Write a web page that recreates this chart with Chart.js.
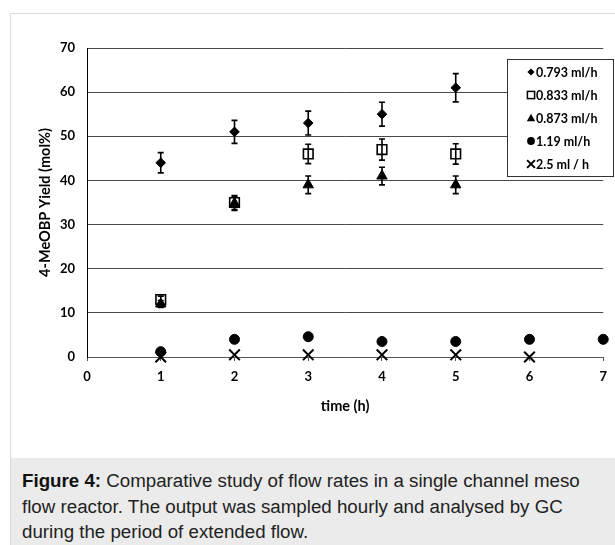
<!DOCTYPE html>
<html>
<head>
<meta charset="utf-8">
<script src="https://cdn.jsdelivr.net/npm/chart.js@4/dist/chart.umd.min.js"></script>
<style>
    html, body { margin: 0; padding: 0; background: #fff; }
    body { width: 615px; height: 545px; position: relative; overflow: hidden; }
    #panel {
        position: absolute; left: 10px; top: 13px; width: 605px; height: 532px;
        border-left: 1px solid #dcdcdc; border-top: 1px solid #dcdcdc; background: #fff;
    }
    #chart { position: absolute; left: 0; top: 0; }
    #caption {
        position: absolute; left: 11px; top: 458px; width: 604px; height: 87px;
        background: #ebebeb; overflow: hidden;
    }
    #caption div {
        position: absolute; left: 11px; top: 11px;
        font-family: "Liberation Sans", Arial, sans-serif; font-size: 18px;
        line-height: 25.5px; color: #222; white-space: nowrap;
        transform: scaleX(1.04); transform-origin: left top;
    }
    #caption b { color: #111; }
</style>
</head>
<body>
<div id="panel"></div>
<canvas id="chart" width="615" height="458"></canvas>
<div id="caption"><div><b>Figure 4:</b> Comparative study of flow rates in a single channel meso<br>flow reactor. The output was sampled hourly and analysed by GC<br>during the period of extended flow.</div></div>
<script>
// Sampling times (h)
const times = [1, 2, 3, 4, 5, 6, 7];

// Yield (mol%) per flow rate, with error bar half-widths
const yield0793 = [44, 51, 53, 55, 61];
const err0793 = [2.3, 2.6, 2.7, 2.7, 3.2];
const yield0833 = [13, 35, 46, 47, 46];
const err0833 = [0.8, 1.6, 2.2, 2.4, 2.3];
const yield0873 = [12, 34.8, 39, 41, 39];
const err0873 = [0.8, 1.6, 2, 2, 2];
const yield119 = [1.2, 4, 4.6, 3.5, 3.5, 4, 4];
const yield25 = [0, 0.5, 0.5, 0.5, 0.5, 0];

const seriesLabels = ['0.793 ml/h', '0.833 ml/h', '0.873 ml/h', '1.19 ml/h', '2.5 ml / h'];
const yTicks = [0, 10, 20, 30, 40, 50, 60, 70];

const FONT = 'Lato, "Open Sans", sans-serif';

function toPoints(values) {
    return values.map((v, i) => ({ x: times[i], y: v }));
}

// draws small marker shapes for the boxed legend
function drawMarker(ctx, style, x, y, r) {
    ctx.beginPath();
    if (style === 'rectRot') {
        ctx.moveTo(x, y - r); ctx.lineTo(x + r, y); ctx.lineTo(x, y + r); ctx.lineTo(x - r, y);
        ctx.closePath(); ctx.fill();
    } else if (style === 'rect') {
        ctx.lineWidth = 1.5;
        ctx.strokeRect(x - r, y - r, 2 * r, 2 * r);
    } else if (style === 'triangle') {
        ctx.moveTo(x, y - r); ctx.lineTo(x + r, y + r * 0.8); ctx.lineTo(x - r, y + r * 0.8);
        ctx.closePath(); ctx.fill();
    } else if (style === 'circle') {
        ctx.arc(x, y, r, 0, Math.PI * 2); ctx.fill();
    } else if (style === 'crossRot') {
        ctx.lineWidth = 2;
        ctx.moveTo(x - r, y - r); ctx.lineTo(x + r, y + r);
        ctx.moveTo(x + r, y - r); ctx.lineTo(x - r, y + r);
        ctx.stroke();
    }
}

const errorBars = {
    id: 'errorBars',
    afterDatasetsDraw(chart) {
        const ctx = chart.ctx;
        const y = chart.scales.y;
        ctx.save();
        ctx.strokeStyle = '#000';
        ctx.lineWidth = 1.6;
        chart.data.datasets.forEach((ds, i) => {
            if (!ds.errors) return;
            chart.getDatasetMeta(i).data.forEach((pt, j) => {
                const v = ds.data[j].y;
                const e = ds.errors[j];
                const top = y.getPixelForValue(v + e);
                const bot = y.getPixelForValue(v - e);
                ctx.beginPath();
                ctx.moveTo(pt.x, top); ctx.lineTo(pt.x, bot);
                ctx.moveTo(pt.x - 3, top); ctx.lineTo(pt.x + 3, top);
                ctx.moveTo(pt.x - 3, bot); ctx.lineTo(pt.x + 3, bot);
                ctx.stroke();
            });
        });
        ctx.restore();
    }
};

const boxLegend = {
    id: 'boxLegend',
    afterDraw(chart) {
        const ctx = chart.ctx;
        const left = 507, top = 59, w = 106, h = 117;
        ctx.save();
        ctx.fillStyle = '#fff';
        ctx.fillRect(left, top, w, h);
        ctx.strokeStyle = '#333';
        ctx.lineWidth = 1;
        ctx.strokeRect(left + 0.5, top + 0.5, w, h);
        const sizes = { rectRot: 3.6, rect: 3.6, triangle: 4.2, circle: 3.9, crossRot: 3.9 };
        chart.data.datasets.forEach((ds, i) => {
            const cy = top + 13 + i * 23;
            ctx.fillStyle = '#000';
            ctx.strokeStyle = '#000';
            drawMarker(ctx, ds.pointStyle, 531, cy, sizes[ds.pointStyle]);
            ctx.fillStyle = '#000';
            ctx.font = 'bold 12.5px ' + FONT;
            ctx.textBaseline = 'middle';
            ctx.textAlign = 'left';
            ctx.fillText(ds.label, 536, cy + 1);
        });
        ctx.restore();
    }
};

const common = { showLine: false, clip: false, borderColor: '#000', backgroundColor: '#000' };

new Chart(document.getElementById('chart'), {
    type: 'scatter',
    data: {
        datasets: [
            { ...common, label: seriesLabels[0], data: toPoints(yield0793), errors: err0793,
              pointStyle: 'rectRot', pointRadius: 4.8, borderWidth: 1, order: 0 },
            { ...common, label: seriesLabels[1], data: toPoints(yield0833), errors: err0833,
              pointStyle: 'rect', pointRadius: 6.8, borderWidth: 1.6, backgroundColor: '#fff', order: 2 },
            { ...common, label: seriesLabels[2], data: toPoints(yield0873), errors: err0873,
              pointStyle: 'triangle', pointRadius: 6, borderWidth: 1, order: 1 },
            { ...common, label: seriesLabels[3], data: toPoints(yield119),
              pointStyle: 'circle', pointRadius: 5, borderWidth: 1, order: 0 },
            { ...common, label: seriesLabels[4], data: toPoints(yield25),
              pointStyle: 'crossRot', pointRadius: 7.5, borderWidth: 2, order: 0 }
        ]
    },
    options: {
        responsive: false,
        animation: false,
        devicePixelRatio: 1,
        layout: { padding: { left: 0, right: 10, top: 48, bottom: 0 } },
        plugins: {
            legend: { display: false },
            tooltip: { enabled: false }
        },
        scales: {
            x: {
                type: 'linear',
                min: 0,
                max: 7,
                afterFit: (s) => { s.height = 101; },
                ticks: { stepSize: 1, color: '#000', padding: 8, font: { family: FONT, size: 13, weight: 'bold' } },
                grid: { drawOnChartArea: false, drawTicks: true, tickLength: 4, color: '#555' },
                border: { display: true, color: '#555' },
                title: {
                    display: true, text: 'time (h)', color: '#000',
                    font: { family: FONT, size: 14.5, weight: 'bold' },
                    padding: { top: 0, bottom: 43 }
                }
            },
            y: {
                min: 0,
                max: 70,
                afterFit: (s) => { s.width = 87; },
                afterBuildTicks: (s) => { s.ticks = yTicks.map(v => ({ value: v })); },
                ticks: { color: '#000', padding: 12, font: { family: FONT, size: 13, weight: 'bold' } },
                grid: { color: '#4a4a4a', drawTicks: false, lineWidth: 1 },
                border: { display: true, color: '#000' },
                title: {
                    display: true, text: '4-MeOBP Yield (mol%)', color: '#000',
                    font: { family: FONT, size: 14.5, weight: 'bold' },
                    padding: { top: 37, bottom: 0 }
                }
            }
        }
    },
    plugins: [errorBars, boxLegend]
});
</script>
</body>
</html>
